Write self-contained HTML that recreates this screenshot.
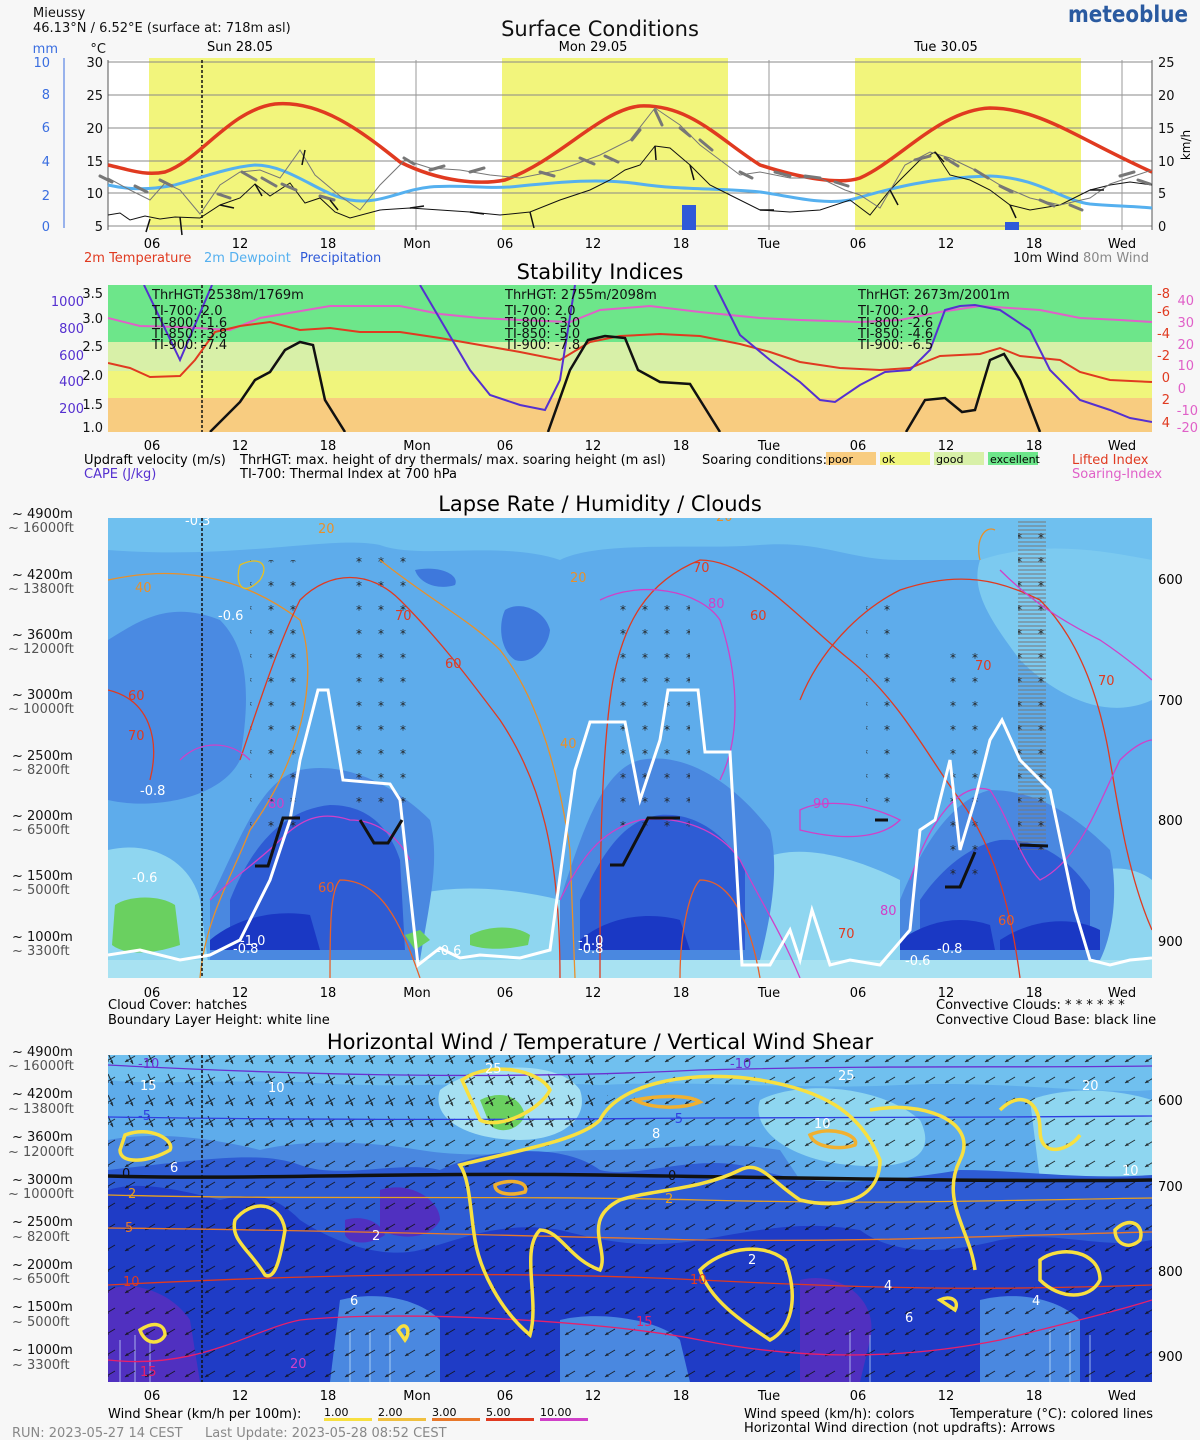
<!DOCTYPE html>
<html><head><meta charset="utf-8"><style>
html,body{margin:0;padding:0;background:#f7f7f7;}
svg{display:block;font-family:"DejaVu Sans","Liberation Sans",sans-serif;}
</style></head><body>
<svg width="1200" height="1440" viewBox="0 0 1200 1440" xmlns="http://www.w3.org/2000/svg">
<defs>
<pattern id="arr" width="20" height="21" patternUnits="userSpaceOnUse">
<line x1="15" y1="6" x2="5" y2="12" stroke="#111" stroke-width="1"/><path d="M5 12 l4 -0.5 l-2 -2.5z" fill="#111"/>
</pattern>
<pattern id="arr2" width="20" height="21" patternUnits="userSpaceOnUse">
<line x1="8" y1="3" x2="13" y2="14" stroke="#111" stroke-width="1"/><path d="M13 14 l-0.5 -4 l-2.5 1.5z" fill="#111"/>
</pattern>
<pattern id="stars" width="22" height="24" patternUnits="userSpaceOnUse">
<text x="4" y="14" font-size="12" fill="#222">*</text>
</pattern>
<pattern id="hatch" width="6" height="4" patternUnits="userSpaceOnUse">
<line x1="0" y1="2" x2="6" y2="2" stroke="#777" stroke-width="1"/>
</pattern>
<clipPath id="c3"><rect x="108" y="518" width="1044" height="460"/></clipPath>
<clipPath id="c4"><rect x="108" y="1055" width="1044" height="327"/></clipPath>
<clipPath id="c2"><rect x="108" y="285" width="1044" height="147"/></clipPath>
</defs>

<!-- Header -->
<text x="33" y="17" font-size="13" fill="#111">Mieussy</text>
<text x="33" y="32" font-size="13" fill="#111">46.13°N / 6.52°E (surface at: 718m asl)</text>
<text x="1068" y="22" font-size="23" font-weight="bold" fill="#2a5aa0" textLength="120" lengthAdjust="spacingAndGlyphs">meteoblue</text>
<text x="600" y="36" font-size="21" text-anchor="middle" fill="#111">Surface Conditions</text>
<text x="240" y="51" font-size="13" text-anchor="middle">Sun 28.05</text>
<text x="593" y="51" font-size="13" text-anchor="middle">Mon 29.05</text>
<text x="946" y="51" font-size="13" text-anchor="middle">Tue 30.05</text>

<!-- Panel 1 -->
<rect x="108" y="60" width="1044" height="170" fill="#fff"/>
<g fill="#f2f57c"><rect x="149" y="58" width="226" height="172"/><rect x="502" y="58" width="226" height="172"/><rect x="855" y="58" width="226" height="172"/></g>
<g stroke="#888" stroke-width="1"><line x1="108" y1="62" x2="1152" y2="62"/><line x1="108" y1="95" x2="1152" y2="95"/><line x1="108" y1="128" x2="1152" y2="128"/><line x1="108" y1="161" x2="1152" y2="161"/><line x1="108" y1="193" x2="1152" y2="193"/><line x1="108" y1="226" x2="1152" y2="226"/></g>
<g stroke="#999"><line x1="416" y1="60" x2="416" y2="230"/><line x1="769" y1="60" x2="769" y2="230"/><line x1="1122" y1="60" x2="1122" y2="230"/></g>
<line x1="108" y1="60" x2="108" y2="230" stroke="#555"/>
<line x1="1152" y1="60" x2="1152" y2="230" stroke="#555"/>
<line x1="202" y1="60" x2="202" y2="230" stroke="#111" stroke-dasharray="3,2" stroke-width="1.5"/>
<rect x="682" y="205" width="14" height="25" fill="#2f5ad8"/>
<rect x="1005" y="222" width="14" height="8" fill="#2f5ad8"/>
<path d="M108 165 C130 170,145 176,165 172 C200 160,230 110,275 104 C320 100,360 130,400 162 C440 182,480 185,505 180 C560 160,600 110,640 106 C690 104,720 140,760 165 C800 178,840 185,860 178 C900 160,940 110,990 108 C1040 108,1080 140,1152 172" fill="none" stroke="#e03a20" stroke-width="3.5"/>
<path d="M108 185 C130 190,150 190,175 185 C200 178,230 167,255 165 C290 165,320 195,350 200 C380 205,400 190,430 187 C460 184,490 190,520 186 C560 182,600 178,640 184 C680 190,720 188,760 192 C790 196,820 205,850 200 C880 192,920 178,990 176 C1040 178,1060 200,1090 204 C1110 206,1130 206,1152 208" fill="none" stroke="#55b0ef" stroke-width="3"/>
<polyline points="108,215 120,213 130,220 145,216 160,219 175,217 200,218 220,205 240,198 255,184 270,196 290,183 305,203 320,198 335,212 350,218 380,210 410,208 440,210 470,212 500,215 530,212 560,200 590,190 610,180 625,170 640,165 655,146 670,148 690,165 710,185 730,195 760,210 790,212 820,210 850,200 870,215 890,190 905,175 920,160 935,152 950,175 970,180 990,190 1010,205 1030,210 1060,205 1090,190 1110,185 1130,182 1152,185" fill="none" stroke="#111" stroke-width="1"/>
<polyline points="108,178 130,190 150,200 165,183 180,190 200,214 220,185 240,172 260,170 280,178 300,150 315,175 340,196 360,210 380,185 405,160 430,168 460,170 490,175 520,178 560,170 600,155 630,140 655,108 680,125 700,145 720,160 740,175 760,172 790,178 820,178 845,190 860,195 880,208 905,165 930,152 950,158 975,170 1000,185 1030,198 1060,205 1090,198 1110,184 1152,170" fill="none" stroke="#777" stroke-width="1"/>
<g stroke="#777" stroke-width="3" stroke-linecap="round">
<line x1="100" y1="176" x2="112" y2="182"/><line x1="135" y1="186" x2="147" y2="192"/><line x1="218" y1="194" x2="230" y2="198"/><line x1="242" y1="172" x2="256" y2="180"/><line x1="262" y1="178" x2="276" y2="186"/><line x1="282" y1="184" x2="296" y2="190"/><line x1="404" y1="158" x2="414" y2="164"/><line x1="430" y1="170" x2="444" y2="166"/><line x1="470" y1="172" x2="484" y2="168"/><line x1="580" y1="158" x2="594" y2="164"/><line x1="605" y1="156" x2="618" y2="162"/><line x1="632" y1="140" x2="640" y2="130"/><line x1="655" y1="110" x2="662" y2="125"/><line x1="700" y1="140" x2="712" y2="150"/><line x1="775" y1="172" x2="790" y2="176"/><line x1="805" y1="176" x2="820" y2="178"/><line x1="835" y1="182" x2="848" y2="186"/><line x1="915" y1="160" x2="930" y2="156"/><line x1="945" y1="158" x2="958" y2="166"/><line x1="975" y1="170" x2="988" y2="178"/><line x1="1040" y1="200" x2="1054" y2="206"/><line x1="1070" y1="205" x2="1082" y2="210"/><line x1="1120" y1="176" x2="1134" y2="172"/><line x1="1138" y1="180" x2="1150" y2="184"/>
<line x1="160" y1="180" x2="172" y2="186"/><line x1="320" y1="196" x2="334" y2="200"/><line x1="540" y1="172" x2="554" y2="176"/><line x1="680" y1="128" x2="690" y2="136"/><line x1="740" y1="172" x2="752" y2="178"/><line x1="1000" y1="186" x2="1012" y2="192"/></g>
<g stroke="#111" stroke-width="1.5">
<line x1="180" y1="217" x2="182" y2="235"/><line x1="150" y1="219" x2="146" y2="232"/><line x1="220" y1="205" x2="234" y2="208"/><line x1="255" y1="184" x2="262" y2="196"/><line x1="305" y1="150" x2="302" y2="165"/><line x1="330" y1="200" x2="338" y2="210"/><line x1="410" y1="208" x2="424" y2="206"/><line x1="470" y1="212" x2="484" y2="214"/><line x1="530" y1="212" x2="534" y2="228"/><line x1="655" y1="146" x2="656" y2="160"/><line x1="690" y1="165" x2="694" y2="180"/><line x1="760" y1="210" x2="774" y2="210"/><line x1="890" y1="190" x2="898" y2="205"/><line x1="935" y1="152" x2="944" y2="162"/><line x1="1010" y1="205" x2="1016" y2="218"/><line x1="1090" y1="190" x2="1104" y2="190"/></g>
<!-- axes labels panel 1 -->
<line x1="64" y1="58" x2="64" y2="228" stroke="#3a6ee0"/>
<g font-size="13" fill="#3a6ee0" text-anchor="end"><text x="58" y="53">mm</text><text x="50" y="67">10</text><text x="50" y="99">8</text><text x="50" y="132">6</text><text x="50" y="166">4</text><text x="50" y="200">2</text><text x="50" y="231">0</text></g>
<g font-size="13" fill="#111" text-anchor="end"><text x="106" y="53">°C</text><text x="103" y="67">30</text><text x="103" y="100">25</text><text x="103" y="133">20</text><text x="103" y="166">15</text><text x="103" y="198">10</text><text x="103" y="231">5</text></g>
<g font-size="13" fill="#111"><text x="1158" y="67">25</text><text x="1158" y="100">20</text><text x="1158" y="133">15</text><text x="1158" y="166">10</text><text x="1158" y="198">5</text><text x="1158" y="231">0</text></g>
<text x="1190" y="145" font-size="12" transform="rotate(-90 1190 145)" text-anchor="middle">km/h</text>
<g font-size="13" text-anchor="middle"><text x="152" y="248">06</text><text x="240" y="248">12</text><text x="328" y="248">18</text><text x="417" y="248">Mon</text><text x="505" y="248">06</text><text x="593" y="248">12</text><text x="681" y="248">18</text><text x="769" y="248">Tue</text><text x="858" y="248">06</text><text x="946" y="248">12</text><text x="1034" y="248">18</text><text x="1122" y="248">Wed</text></g>
<text x="84" y="262" font-size="13" fill="#e03a20">2m Temperature</text>
<text x="204" y="262" font-size="13" fill="#55b0ef">2m Dewpoint</text>
<text x="300" y="262" font-size="13" fill="#2f5ad8">Precipitation</text>
<text x="1013" y="262" font-size="13" fill="#111">10m Wind</text>
<text x="1083" y="262" font-size="13" fill="#888">80m Wind</text>

<!-- Panel 2 -->
<text x="600" y="279" font-size="21" text-anchor="middle">Stability Indices</text>
<rect x="108" y="285" width="1044" height="57" fill="#6de68a"/>
<rect x="108" y="342" width="1044" height="29" fill="#d8f0a8"/>
<rect x="108" y="371" width="1044" height="27" fill="#f0f57c"/>
<rect x="108" y="398" width="1044" height="34" fill="#f8cc80"/>
<line x1="202" y1="285" x2="202" y2="432" stroke="#111" stroke-dasharray="3,2" stroke-width="1.5"/>
<g clip-path="url(#c2)">
<polyline points="108,318 140,326 180,327 230,330 260,318 330,306 360,306 400,306 440,314 480,318 520,320 570,322 600,310 650,306 700,312 760,318 800,320 860,322 900,320 940,312 980,306 1040,310 1080,318 1120,320 1152,322" fill="none" stroke="#e060c8" stroke-width="2"/>
<polyline points="108,363 130,368 150,377 180,376 195,360 215,332 240,326 270,322 300,330 330,328 360,332 400,332 440,338 480,345 520,352 560,360 590,342 620,336 660,334 700,336 740,344 770,352 800,362 840,368 880,370 910,368 940,356 980,354 1000,348 1020,356 1060,360 1080,372 1110,380 1152,382" fill="none" stroke="#e03a20" stroke-width="2"/>
<polyline points="210,432 240,402 255,380 270,372 285,350 300,342 313,345 325,400 345,432" fill="none" stroke="#111" stroke-width="2.5"/>
<polyline points="548,432 570,370 588,340 605,336 625,338 638,370 660,382 690,384 720,432" fill="none" stroke="#111" stroke-width="2.5"/>
<polyline points="906,432 925,400 945,398 962,412 975,410 990,360 1004,354 1020,380 1040,432" fill="none" stroke="#111" stroke-width="2.5"/>
<polyline points="144,285 180,360 212,285" fill="none" stroke="#5530d0" stroke-width="2"/>
<polyline points="420,285 470,370 490,395 520,405 545,410 560,380 575,285" fill="none" stroke="#5530d0" stroke-width="2"/>
<polyline points="715,285 740,335 770,360 800,382 820,400 835,402 860,385 885,372 910,370 930,350 945,310 960,306 975,305 1000,310 1030,330 1050,370 1080,400 1110,410 1130,418 1152,422" fill="none" stroke="#5530d0" stroke-width="2"/>
</g>
<g font-size="13" fill="#111"><text x="152" y="299">ThrHGT: 2538m/1769m</text><text x="152" y="315">TI-700:  2.0</text><text x="152" y="327">TI-800: -1.6</text><text x="152" y="338">TI-850: -3.8</text><text x="152" y="349">TI-900: -7.4</text>
<text x="505" y="299">ThrHGT: 2755m/2098m</text><text x="505" y="315">TI-700:  2.0</text><text x="505" y="327">TI-800: -3.0</text><text x="505" y="338">TI-850: -5.0</text><text x="505" y="349">TI-900: -7.8</text>
<text x="858" y="299">ThrHGT: 2673m/2001m</text><text x="858" y="315">TI-700:  2.0</text><text x="858" y="327">TI-800: -2.6</text><text x="858" y="338">TI-850: -4.6</text><text x="858" y="349">TI-900: -6.5</text></g>
<g font-size="13" fill="#111" text-anchor="end"><text x="103" y="298">3.5</text><text x="103" y="323">3.0</text><text x="103" y="351">2.5</text><text x="103" y="380">2.0</text><text x="103" y="409">1.5</text><text x="103" y="432">1.0</text></g>
<g font-size="13" fill="#5530d0" text-anchor="end"><text x="84" y="306">1000</text><text x="84" y="333">800</text><text x="84" y="360">600</text><text x="84" y="386">400</text><text x="84" y="413">200</text></g>
<g font-size="13" fill="#e03a20" text-anchor="end"><text x="1170" y="298">-8</text><text x="1170" y="316">-6</text><text x="1170" y="338">-4</text><text x="1170" y="360">-2</text><text x="1170" y="382">0</text><text x="1170" y="404">2</text><text x="1170" y="427">4</text></g>
<g font-size="13" fill="#e060c8" text-anchor="end"><text x="1194" y="305">40</text><text x="1194" y="327">30</text><text x="1194" y="349">20</text><text x="1194" y="370">10</text><text x="1186" y="393">0</text><text x="1198" y="415">-10</text><text x="1198" y="432">-20</text></g>
<g font-size="13" text-anchor="middle"><text x="152" y="450">06</text><text x="240" y="450">12</text><text x="328" y="450">18</text><text x="417" y="450">Mon</text><text x="505" y="450">06</text><text x="593" y="450">12</text><text x="681" y="450">18</text><text x="769" y="450">Tue</text><text x="858" y="450">06</text><text x="946" y="450">12</text><text x="1034" y="450">18</text><text x="1122" y="450">Wed</text></g>
<text x="84" y="464" font-size="13">Updraft velocity (m/s)</text>
<text x="84" y="478" font-size="13" fill="#5530d0">CAPE (J/kg)</text>
<text x="240" y="464" font-size="13">ThrHGT: max. height of dry thermals/ max. soaring height (m asl)</text>
<text x="240" y="478" font-size="13">TI-700: Thermal Index at 700 hPa</text>
<text x="702" y="464" font-size="13">Soaring conditions:</text>
<rect x="826" y="452" width="50" height="13" fill="#f8cc80"/><text x="828" y="463" font-size="11">poor</text>
<rect x="880" y="452" width="50" height="13" fill="#f0f57c"/><text x="882" y="463" font-size="11">ok</text>
<rect x="934" y="452" width="50" height="13" fill="#d8f0a8"/><text x="936" y="463" font-size="11">good</text>
<rect x="988" y="452" width="50" height="13" fill="#6de68a"/><text x="990" y="463" font-size="11">excellent</text>
<text x="1072" y="464" font-size="13" fill="#e03a20">Lifted Index</text>
<text x="1072" y="478" font-size="13" fill="#e060c8">Soaring-Index</text>

<!-- Panel 3 -->
<text x="600" y="511" font-size="21" text-anchor="middle">Lapse Rate / Humidity / Clouds</text>
<g clip-path="url(#c3)">
<rect x="108" y="518" width="1044" height="460" fill="#5eaceb"/>
<path d="M108 518 H1152 V560 H900 C850 560,820 540,760 545 C700 550,600 540,560 560 C500 540,420 560,380 545 C330 535,240 560,108 550Z" fill="#6fc0ef"/>
<path d="M108 640 C140 620,170 600,220 620 C250 650,250 700,240 760 C220 800,150 810,108 800Z" fill="#4a8ae2"/>
<path d="M980 560 C1040 540,1100 550,1152 560 V700 C1110 720,1060 700,1020 660 C990 620,970 590,980 560Z" fill="#7ccaf0"/>
<path d="M108 850 C150 840,190 860,200 900 L210 978 H108Z" fill="#8fd6f0"/>
<path d="M400 900 C450 880,520 890,560 900 L580 978 H400Z" fill="#8fd6f0"/>
<path d="M760 860 C800 840,860 860,900 880 L900 978 H760Z" fill="#8fd6f0"/>
<path d="M1080 880 C1110 860,1140 870,1152 880 V978 H1080Z" fill="#8fd6f0"/>
<path d="M108 960 H1152 V978 H108Z" fill="#a8e2f2"/>
<path d="M210 900 C240 840,260 780,300 770 C350 760,400 790,430 820 C440 860,430 900,420 960 H210Z" fill="#4a88e0"/>
<path d="M560 900 C580 840,600 770,640 760 C690 750,740 790,770 830 C780 870,770 920,760 960 H560Z" fill="#4a88e0"/>
<path d="M900 900 C920 850,950 800,990 790 C1040 790,1080 820,1110 850 C1120 900,1110 940,1100 960 H900Z" fill="#4a88e0"/>
<path d="M230 900 C250 850,280 810,330 805 C370 805,390 830,400 860 L405 950 H230Z" fill="#2e5cd4"/>
<path d="M580 900 C600 860,620 820,660 815 C700 812,730 840,745 870 L745 950 H580Z" fill="#2e5cd4"/>
<path d="M920 900 C940 870,970 845,1000 840 C1040 838,1070 860,1090 890 L1090 950 H920Z" fill="#2e5cd4"/>
<path d="M210 940 C240 915,280 910,310 915 L320 950 H210Z" fill="#1a38c4"/>
<path d="M580 940 C610 915,650 912,680 920 L690 950 H580Z" fill="#1a38c4"/>
<path d="M900 940 C930 920,960 915,990 925 L995 950 H900Z" fill="#1a38c4"/>
<path d="M1000 940 C1030 920,1070 915,1100 930 L1100 950 H1000Z" fill="#1a38c4"/>
<path d="M115 905 C130 895,160 895,175 905 L180 945 C150 955,125 955,112 945Z" fill="#6ad060"/>
<path d="M470 935 C490 925,515 925,530 935 L528 945 C505 950,485 950,470 945Z" fill="#6ad060"/>
<path d="M405 935 L420 930 L430 940 L415 950Z" fill="#6ad060"/>
<path d="M505 610 C520 600,545 610,550 630 C548 650,530 665,515 660 C500 650,498 625,505 610Z" fill="#3e78dc"/>
<path d="M415 570 C440 565,460 575,455 585 C440 590,420 585,415 570Z" fill="#3e78dc"/>
<rect x="1018" y="520" width="28" height="330" fill="url(#hatch)"/>
<rect x="250" y="560" width="60" height="280" fill="url(#stars)"/>
<rect x="350" y="555" width="60" height="250" fill="url(#stars)"/>
<rect x="610" y="595" width="80" height="240" fill="url(#stars)"/>
<rect x="866" y="595" width="30" height="220" fill="url(#stars)"/>
<rect x="940" y="640" width="40" height="240" fill="url(#stars)"/>
<rect x="1018" y="520" width="40" height="330" fill="url(#stars)"/>
<g fill="none" stroke-width="1.3">
<path d="M108 580 C200 560,260 590,300 620 C320 680,300 760,250 830 C230 880,205 920,200 978" stroke="#e8902a"/>
<path d="M380 560 C430 600,470 620,500 650 C540 700,560 780,570 850 L575 978" stroke="#e8902a"/>
<path d="M108 690 C150 700,160 740,150 780 M240 760 C260 700,280 640,300 600 C330 570,370 570,400 600 C440 640,470 680,500 720 C540 780,560 850,560 978" stroke="#e03a20"/>
<path d="M600 978 C600 880,600 780,610 700 C620 620,650 580,700 560 C750 560,800 620,850 660 C900 700,930 760,960 800 C990 840,1010 900,1020 978" stroke="#e03a20"/>
<path d="M800 700 C820 650,860 610,900 590 C960 570,1000 580,1040 600 C1080 640,1100 700,1110 760 C1120 820,1130 880,1152 930" stroke="#e03a20"/>
<path d="M330 978 C330 930,330 890,340 880 C380 880,400 920,420 978" stroke="#e8602a"/>
<path d="M680 978 C680 930,690 890,700 880 C730 880,750 920,760 978" stroke="#e8602a"/>
<path d="M180 760 C200 740,230 740,250 760 M210 900 C230 880,260 860,280 840 C300 820,320 810,350 820 C380 820,400 840,410 860" stroke="#d040c8"/>
<path d="M560 900 C580 860,600 830,640 820 C680 815,720 830,740 860 C760 900,780 930,800 978" stroke="#d040c8"/>
<path d="M800 810 C820 800,860 800,900 820 C880 840,840 840,800 830Z" stroke="#d040c8"/>
<path d="M600 600 C640 580,700 590,720 620 C740 680,740 740,720 780" stroke="#d040c8"/>
<path d="M910 880 C930 820,960 780,990 790 C1010 820,1020 860,1040 880 C1080 860,1100 800,1120 760 C1140 740,1152 740,1152 740" stroke="#d040c8"/>
<path d="M1000 570 C1030 600,1060 620,1100 640 C1130 660,1152 680,1152 680" stroke="#d040c8"/>
<path d="M240 565 C235 580,240 600,260 580 C270 565,260 555,240 565Z" stroke="#e8c020"/>
<path d="M980 560 C975 540,985 525,995 530" stroke="#e8902a"/>
</g>
<polyline points="108,955 140,950 180,960 210,955 240,940 270,880 290,820 300,760 318,690 328,690 343,780 390,784 400,800 418,965 440,948 460,958 480,955 520,958 550,950 565,840 575,770 590,722 625,722 640,800 660,740 668,690 698,690 705,752 730,752 742,965 770,965 790,930 800,960 812,910 830,965 850,960 880,965 910,930 920,830 935,820 950,760 960,850 975,800 990,740 1002,720 1020,760 1050,790 1075,910 1090,960 1110,965 1130,960 1152,958" fill="none" stroke="#fff" stroke-width="3"/>
<polyline points="255,866 268,866 283,818 300,818" fill="none" stroke="#111" stroke-width="3"/>
<polyline points="360,820 374,843 388,843 402,820" fill="none" stroke="#111" stroke-width="3"/>
<polyline points="610,865 623,865 648,818 680,818" fill="none" stroke="#111" stroke-width="3"/>
<polyline points="875,820 888,820" fill="none" stroke="#111" stroke-width="3"/>
<polyline points="945,887 960,887 975,852" fill="none" stroke="#111" stroke-width="3"/>
<polyline points="1020,845 1048,846" fill="none" stroke="#111" stroke-width="3"/>
<g font-size="13" fill="#fff"><text x="185" y="525">-0.3</text><text x="218" y="620">-0.6</text><text x="140" y="795">-0.8</text><text x="132" y="882">-0.6</text><text x="233" y="953">-0.8</text><text x="240" y="945">-1.0</text><text x="578" y="945">-1.0</text><text x="578" y="953">-0.8</text><text x="937" y="953">-0.8</text><text x="905" y="965">-0.6</text><text x="436" y="955">-0.6</text></g>
<g font-size="13"><text x="135" y="592" fill="#e8902a">40</text><text x="560" y="748" fill="#e8902a">40</text><text x="318" y="533" fill="#e8902a">20</text><text x="716" y="521" fill="#e8902a">20</text><text x="570" y="582" fill="#e8902a">20</text>
<text x="128" y="700" fill="#e03a20">60</text><text x="445" y="668" fill="#e03a20">60</text><text x="750" y="620" fill="#e03a20">60</text><text x="318" y="892" fill="#e8602a">60</text><text x="998" y="925" fill="#e8602a">60</text>
<text x="128" y="740" fill="#e03a20">70</text><text x="395" y="620" fill="#e03a20">70</text><text x="693" y="572" fill="#e03a20">70</text><text x="975" y="670" fill="#e03a20">70</text><text x="838" y="938" fill="#e03a20">70</text><text x="1098" y="685" fill="#e03a20">70</text>
<text x="268" y="808" fill="#d040c8">80</text><text x="708" y="608" fill="#d040c8">80</text><text x="880" y="915" fill="#d040c8">80</text><text x="813" y="808" fill="#d040c8">90</text></g>
</g>
<line x1="202" y1="518" x2="202" y2="978" stroke="#111" stroke-dasharray="3,2" stroke-width="1.5"/>
<g font-size="13" fill="#111"><text x="12" y="518">~ 4900m</text><text x="12" y="579">~ 4200m</text><text x="12" y="639">~ 3600m</text><text x="12" y="699">~ 3000m</text><text x="12" y="760">~ 2500m</text><text x="12" y="820">~ 2000m</text><text x="12" y="880">~ 1500m</text><text x="12" y="941">~ 1000m</text></g>
<g font-size="13" fill="#555"><text x="8" y="532">~ 16000ft</text><text x="8" y="593">~ 13800ft</text><text x="8" y="653">~ 12000ft</text><text x="8" y="713">~ 10000ft</text><text x="12" y="774">~ 8200ft</text><text x="12" y="834">~ 6500ft</text><text x="12" y="894">~ 5000ft</text><text x="12" y="955">~ 3300ft</text></g>
<g font-size="13"><text x="1158" y="584">600</text><text x="1158" y="705">700</text><text x="1158" y="825">800</text><text x="1158" y="946">900</text></g>
<g font-size="13" text-anchor="middle"><text x="152" y="997">06</text><text x="240" y="997">12</text><text x="328" y="997">18</text><text x="417" y="997">Mon</text><text x="505" y="997">06</text><text x="593" y="997">12</text><text x="681" y="997">18</text><text x="769" y="997">Tue</text><text x="858" y="997">06</text><text x="946" y="997">12</text><text x="1034" y="997">18</text><text x="1122" y="997">Wed</text></g>
<text x="108" y="1009" font-size="13">Cloud Cover: hatches</text>
<text x="108" y="1024" font-size="13">Boundary Layer Height: white line</text>
<text x="936" y="1009" font-size="13">Convective Clouds: * * * * * *</text>
<text x="936" y="1024" font-size="13">Convective Cloud Base: black line</text>

<!-- Panel 4 -->
<text x="600" y="1049" font-size="21" text-anchor="middle">Horizontal Wind / Temperature / Vertical Wind Shear</text>
<g clip-path="url(#c4)">
<rect x="108" y="1055" width="1044" height="327" fill="#5eaceb"/>
<path d="M108 1055 H1152 V1090 C1100 1095,1000 1080,900 1085 C800 1090,700 1080,600 1085 C500 1080,400 1090,300 1082 C200 1080,150 1085,108 1080Z" fill="#70c0ef"/>
<path d="M440 1090 C480 1060,560 1060,580 1090 C590 1120,560 1140,520 1140 C470 1140,430 1120,440 1090Z" fill="#a5e0f2"/>
<path d="M760 1100 C800 1080,880 1085,920 1120 C940 1160,900 1170,850 1165 C790 1160,750 1130,760 1100Z" fill="#8ed6f0"/>
<path d="M1030 1100 C1070 1085,1120 1090,1152 1100 V1180 H1040Z" fill="#8ed6f0"/>
<path d="M108 1140 C160 1130,220 1140,260 1150 C300 1140,360 1140,420 1150 C480 1160,540 1150,600 1150 C660 1150,720 1140,780 1150 L800 1180 H108Z" fill="#4a88e0"/>
<path d="M108 1170 C200 1160,260 1150,300 1165 C340 1180,400 1160,440 1170 C480 1150,560 1140,600 1170 C640 1180,700 1150,760 1170 C820 1190,900 1180,960 1170 C1020 1170,1080 1180,1152 1175 V1382 H108Z" fill="#2e5cd4"/>
<path d="M108 1190 C140 1180,180 1190,220 1200 C260 1190,280 1200,300 1220 C330 1240,380 1260,420 1250 C460 1240,500 1220,560 1230 C600 1240,640 1250,700 1240 C760 1230,800 1220,860 1230 C900 1260,960 1250,1000 1240 C1060 1230,1100 1250,1152 1240 V1382 H108Z" fill="#1f3cc6"/>
<path d="M108 1290 C130 1280,170 1290,190 1320 L200 1382 H108Z" fill="#5030c0"/>
<path d="M380 1190 C410 1180,440 1200,440 1220 C430 1240,400 1240,380 1230Z" fill="#5030c0"/>
<path d="M345 1220 C360 1215,380 1220,385 1235 C370 1245,350 1245,345 1235Z" fill="#5030c0"/>
<path d="M800 1280 C840 1270,880 1300,870 1340 L860 1382 H800Z" fill="#5030c0"/>
<path d="M340 1300 C380 1290,420 1300,440 1320 L440 1382 H330Z" fill="#4a88e0"/>
<path d="M560 1320 C600 1310,660 1320,680 1340 L690 1382 H560Z" fill="#4a88e0"/>
<path d="M980 1300 C1020 1290,1060 1300,1080 1320 L1080 1382 H980Z" fill="#4a88e0"/>
<path d="M480 1100 C500 1090,520 1095,525 1115 C520 1130,500 1135,490 1125Z" fill="#6ad060"/>
<g stroke="#cfe8ff" stroke-width="1" opacity="0.7"><line x1="120" y1="1340" x2="120" y2="1382"/><line x1="135" y1="1335" x2="135" y2="1382"/><line x1="150" y1="1340" x2="150" y2="1382"/><line x1="350" y1="1330" x2="350" y2="1382"/><line x1="370" y1="1330" x2="370" y2="1382"/><line x1="390" y1="1335" x2="390" y2="1382"/><line x1="850" y1="1330" x2="850" y2="1382"/><line x1="870" y1="1335" x2="870" y2="1382"/><line x1="1050" y1="1330" x2="1050" y2="1382"/><line x1="1070" y1="1330" x2="1070" y2="1382"/><line x1="1090" y1="1335" x2="1090" y2="1382"/></g>
<rect x="108" y="1055" width="1044" height="327" fill="url(#arr)" opacity="0.85"/>
<rect x="108" y="1055" width="500" height="80" fill="url(#arr2)" opacity="0.85"/>
<g fill="none" stroke-width="1.3">
<path d="M108 1065 C300 1075,500 1080,700 1070 C900 1065,1000 1068,1152 1066" stroke="#6a30d0"/>
<path d="M108 1117 C300 1120,500 1120,700 1118 C900 1116,1000 1118,1152 1116" stroke="#3040e0"/>
<path d="M108 1195 C300 1200,500 1195,700 1200 C900 1205,1000 1200,1152 1198" stroke="#e8a020"/>
<path d="M108 1228 C300 1230,500 1235,700 1240 C900 1242,1000 1235,1152 1232" stroke="#e8782a"/>
<path d="M108 1285 C300 1275,500 1270,700 1280 C900 1290,1000 1290,1152 1285" stroke="#e03a20"/>
<path d="M108 1360 C200 1370,250 1330,300 1320 C400 1310,600 1320,700 1340 C800 1360,900 1360,1000 1340 C1080 1320,1120 1310,1152 1300" stroke="#e8206a"/>
</g>
<path d="M108 1176 C250 1180,400 1172,600 1175 C800 1178,1000 1182,1152 1180" fill="none" stroke="#111" stroke-width="3.5"/>
<g fill="none" stroke="#f8e040" stroke-width="3.5">
<path d="M125 1135 C150 1125,175 1140,170 1150 C150 1162,120 1165,120 1150Z"/>
<path d="M235 1220 C250 1200,280 1200,285 1230 C280 1260,275 1280,265 1275 C250 1250,230 1240,235 1220Z"/>
<path d="M462 1080 C490 1060,540 1070,550 1090 C540 1110,500 1130,480 1120Z"/>
<path d="M460 1165 C520 1150,580 1140,600 1120 C620 1080,700 1070,760 1080 C820 1090,860 1110,880 1160 C880 1200,840 1210,800 1200 C770 1180,760 1160,740 1170 C700 1190,650 1190,620 1200 C580 1220,610 1250,600 1270 C570 1260,560 1230,540 1230 C520 1250,540 1300,530 1335 C500 1310,480 1270,475 1240 C470 1210,470 1180,460 1165Z"/>
<path d="M870 1110 C920 1100,980 1120,960 1160 C940 1200,970 1230,975 1270"/>
<path d="M700 1270 C720 1250,760 1240,785 1260 C800 1300,790 1330,770 1340 C740 1320,710 1300,700 1270Z"/>
<path d="M1000 1110 C1020 1090,1040 1100,1040 1130 C1040 1160,1070 1150,1080 1135"/>
<path d="M1040 1260 C1060 1245,1100 1250,1100 1280 C1090 1300,1060 1300,1040 1280Z"/>
<path d="M1115 1230 C1130 1215,1145 1225,1140 1240 C1130 1250,1115 1245,1115 1230Z"/>
<path d="M140 1330 C155 1320,165 1325,165 1335 C160 1345,145 1345,140 1330Z"/>
<path d="M398 1330 C405 1320,412 1330,405 1340Z"/>
<path d="M940 1300 C950 1295,960 1300,955 1310Z"/>
</g>
<g fill="none" stroke="#f0b030" stroke-width="3.5"><path d="M635 1100 C660 1095,690 1095,700 1102 C680 1110,650 1108,635 1100Z"/><path d="M810 1135 C830 1125,860 1135,855 1145 C840 1150,815 1148,810 1135Z"/><path d="M495 1185 C510 1178,530 1182,525 1192 C510 1196,495 1194,495 1185Z"/></g>
<g font-size="13" fill="#fff"><text x="170" y="1172">6</text><text x="372" y="1240">2</text><text x="748" y="1264">2</text><text x="652" y="1138">8</text><text x="814" y="1128">10</text><text x="268" y="1092">10</text><text x="140" y="1090">15</text><text x="485" y="1073">25</text><text x="838" y="1080">25</text><text x="1082" y="1090">20</text><text x="884" y="1290">4</text><text x="1032" y="1305">4</text><text x="350" y="1305">6</text><text x="905" y="1322">6</text><text x="1122" y="1175">10</text></g>
<g font-size="13"><text x="138" y="1068" fill="#6a30d0">-10</text><text x="730" y="1068" fill="#6a30d0">-10</text><text x="138" y="1120" fill="#3040e0">-5</text><text x="670" y="1123" fill="#3040e0">-5</text><text x="122" y="1178" fill="#111">0</text><text x="668" y="1180" fill="#111">0</text><text x="128" y="1198" fill="#e8a020">2</text><text x="665" y="1203" fill="#e8a020">2</text><text x="125" y="1232" fill="#e8782a">5</text><text x="123" y="1286" fill="#e03a20">10</text><text x="690" y="1284" fill="#e03a20">10</text><text x="140" y="1376" fill="#e8206a">15</text><text x="636" y="1326" fill="#e8206a">15</text><text x="290" y="1368" fill="#d040c8">20</text></g>
</g>
<line x1="202" y1="1055" x2="202" y2="1382" stroke="#111" stroke-dasharray="3,2" stroke-width="1.5"/>
<g font-size="13" fill="#111"><text x="12" y="1056">~ 4900m</text><text x="12" y="1098">~ 4200m</text><text x="12" y="1141">~ 3600m</text><text x="12" y="1184">~ 3000m</text><text x="12" y="1226">~ 2500m</text><text x="12" y="1269">~ 2000m</text><text x="12" y="1311">~ 1500m</text><text x="12" y="1354">~ 1000m</text></g>
<g font-size="13" fill="#555"><text x="8" y="1070">~ 16000ft</text><text x="8" y="1113">~ 13800ft</text><text x="8" y="1156">~ 12000ft</text><text x="8" y="1198">~ 10000ft</text><text x="12" y="1241">~ 8200ft</text><text x="12" y="1283">~ 6500ft</text><text x="12" y="1326">~ 5000ft</text><text x="12" y="1369">~ 3300ft</text></g>
<g font-size="13"><text x="1158" y="1105">600</text><text x="1158" y="1191">700</text><text x="1158" y="1276">800</text><text x="1158" y="1361">900</text></g>
<g font-size="13" text-anchor="middle"><text x="152" y="1400">06</text><text x="240" y="1400">12</text><text x="328" y="1400">18</text><text x="417" y="1400">Mon</text><text x="505" y="1400">06</text><text x="593" y="1400">12</text><text x="681" y="1400">18</text><text x="769" y="1400">Tue</text><text x="858" y="1400">06</text><text x="946" y="1400">12</text><text x="1034" y="1400">18</text><text x="1122" y="1400">Wed</text></g>
<text x="108" y="1418" font-size="13">Wind Shear (km/h per 100m):</text>
<g font-size="11"><text x="324" y="1416">1.00</text><text x="378" y="1416">2.00</text><text x="432" y="1416">3.00</text><text x="486" y="1416">5.00</text><text x="540" y="1416">10.00</text></g>
<rect x="324" y="1418" width="48" height="3" fill="#f8e040"/><rect x="378" y="1418" width="48" height="3" fill="#f0c040"/><rect x="432" y="1418" width="48" height="3" fill="#e8782a"/><rect x="486" y="1418" width="48" height="3" fill="#e03a20"/><rect x="540" y="1418" width="48" height="3" fill="#d040c8"/>
<text x="744" y="1418" font-size="13">Wind speed (km/h): colors</text>
<text x="950" y="1418" font-size="13">Temperature (°C): colored lines</text>
<text x="744" y="1432" font-size="13">Horizontal Wind direction (not updrafts): Arrows</text>
<text x="12" y="1437" font-size="13" fill="#888">RUN: 2023-05-27 14 CEST</text>
<text x="205" y="1437" font-size="13" fill="#888">Last Update: 2023-05-28 08:52 CEST</text>
</svg>
</body></html>
